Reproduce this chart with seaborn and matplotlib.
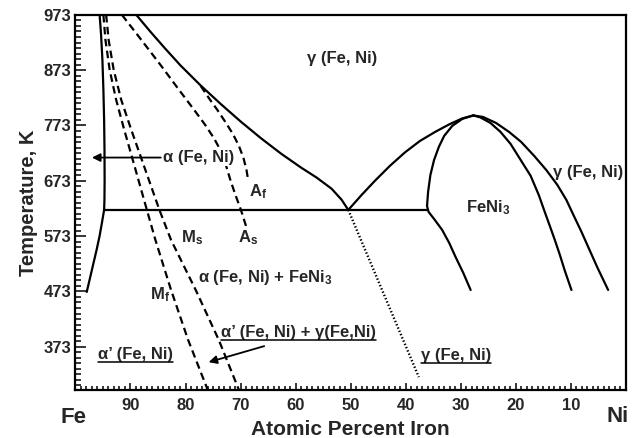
import matplotlib
matplotlib.use("Agg")
import matplotlib.pyplot as plt
import matplotlib.ticker as tck
from matplotlib.lines import Line2D
import seaborn as sns

# phase boundaries: (atomic % Fe, temperature K)
alpha_x = [95.61, 95.34, 95.10, 94.92, 94.79, 94.72, 94.70, 94.73, 94.79,
           95.16, 95.61, 96.16, 96.80, 97.35, 97.95]
alpha_y = [973, 936.8, 891.6, 837.3, 783.1, 728.8, 674.5, 638.4, 620.3,
           598.6, 573.3, 547.9, 520.8, 497.3, 472.0]

gamma_x = [88.94, 86.38, 83.64, 80.90, 77.24, 73.58, 69.93, 66.27, 62.61,
           58.96, 56.22, 53.47, 51.65, 50.42]
gamma_y = [973, 942.6, 911.5, 881.5, 845.3, 811.7, 779.8, 749.8, 721.9,
           696.6, 679.1, 658.8, 638.9, 620.3]

eutectoid_x = [94.79, 35.92]
eutectoid_y = [620.3, 620.3]

rise_x = [50.42, 48.0, 45.61, 42.87, 40.13, 37.39, 34.64, 32.08, 29.71, 27.7]
rise_y = [620.3, 647.4, 672.7, 699.9, 724.3, 745.1, 761.4, 775.0, 785.8, 791.2]

feni3_left_x = [27.7, 29.71, 31.54, 33.0, 33.97, 34.83, 35.50, 35.92, 36.11,
                35.83, 34.83, 33.36, 32.08, 30.93, 29.52, 28.19]
feni3_left_y = [791.2, 784.9, 772.2, 754.1, 734.2, 710.7, 683.6, 652.8, 627.5,
                616.7, 604.0, 584.1, 560.6, 535.3, 506.3, 475.6]

feni3_right_x = [27.7, 26.42, 24.59, 22.76, 20.93, 19.10, 17.28, 15.81, 14.72,
                 13.80, 12.89, 11.97, 11.06, 9.87]
feni3_right_y = [791.2, 787.6, 777.6, 761.4, 739.7, 710.7, 681.9, 647.4, 616.7,
                 591.4, 566.0, 538.9, 509.9, 475.6]

gamma_right_x = [27.7, 25.96, 23.58, 21.21, 19.01, 16.64, 14.45, 12.43, 10.79,
                 9.51, 8.04, 6.58, 5.12, 3.2]
gamma_right_y = [791.2, 788.5, 777.6, 761.4, 743.3, 718.0, 692.6, 665.5, 638.4,
                 611.2, 580.5, 547.9, 515.4, 475.6]

# martensite / austenite start and finish lines (dashed)
ms_x = [94.42, 93.97, 93.05, 91.68, 89.85, 87.93, 84.74, 82.63, 78.15, 73.95, 70.29]
ms_y = [973, 927.8, 873.5, 819.3, 765.0, 710.7, 620.3, 566.0, 475.6, 385.1, 294.7]

mf_x = [94.92, 94.55, 93.78, 92.60, 91.13, 89.58, 87.02, 85.47, 82.63, 79.52, 75.96]
mf_y = [973, 927.8, 873.5, 819.3, 765.0, 710.7, 620.3, 566.0, 475.6, 385.1, 294.7]

as_x = [91.55, 88.03, 84.55, 81.17, 78.43, 76.42, 74.86, 73.67, 72.67, 71.85,
        70.93, 69.93, 69.01]
as_y = [973, 927.8, 882.6, 837.3, 801.2, 774.0, 750.5, 728.8, 701.7, 674.5,
        647.4, 620.3, 591.4]

af_x = [77.24, 75.78, 74.22, 72.76, 71.39, 70.29, 69.47, 68.92, 68.65]
af_y = [844.6, 822.9, 801.2, 779.4, 757.7, 736.0, 714.3, 692.6, 676.3]

dotted_x = [50.42, 37.6]
dotted_y = [620.3, 318]

x_ticks = [100, 90, 80, 70, 60, 50, 40, 30, 20, 10, 0]
x_labels = ["", "90", "80", "70", "60", "50", "40", "30", "20", "10", ""]
y_ticks = [373, 473, 573, 673, 773, 873, 973]

sns.set_style("ticks")
plt.rcParams["font.family"] = ["Liberation Sans", "DejaVu Sans"]
plt.rcParams["font.weight"] = "bold"
plt.rcParams["mathtext.fontset"] = "custom"
plt.rcParams["mathtext.rm"] = "Liberation Sans:bold"
plt.rcParams["mathtext.bf"] = "Liberation Sans:bold"
plt.rcParams["mathtext.it"] = "Liberation Sans:bold"

fig = plt.figure(figsize=(6.34, 4.38), dpi=100)
ax = fig.add_axes([0.119, 0.110, 0.868, 0.856])

LW = 1.6
DASH = (0, (3.4, 2.0))


def curve(x, y, ls="-", lw=LW):
    sns.lineplot(x=x, y=y, ax=ax, sort=False, estimator=None,
                 color="black", lw=lw, linestyle=ls)


curve(alpha_x, alpha_y)
curve(gamma_x, gamma_y)
curve(eutectoid_x, eutectoid_y)
curve(rise_x, rise_y)
curve(feni3_left_x, feni3_left_y)
curve(feni3_right_x, feni3_right_y)
curve(gamma_right_x, gamma_right_y)
curve(ms_x, ms_y, DASH)
curve(mf_x, mf_y, DASH)
curve(as_x, as_y, DASH)
curve(af_x, af_y, DASH)
curve(dotted_x, dotted_y, (0, (0.6, 0.9)), 1.7)

ax.set_xlim(100, 0)
ax.set_ylim(295, 973)

ax.xaxis.set_major_locator(tck.FixedLocator(x_ticks))
ax.set_xticklabels(x_labels)
ax.xaxis.set_minor_locator(tck.MultipleLocator(1))
ax.yaxis.set_major_locator(tck.FixedLocator(y_ticks))
ax.yaxis.set_minor_locator(tck.FixedLocator(list(range(303, 974, 10))))

ax.tick_params(axis="both", which="both", direction="in", top=False, right=False,
               color="black", width=1.1)
ax.tick_params(axis="y", which="major", length=8, labelsize=12, pad=3)
ax.tick_params(axis="y", which="minor", length=4)
ax.tick_params(axis="x", which="major", length=5, labelsize=12, pad=6)
ax.tick_params(axis="x", which="minor", length=3)
for lab in ax.get_xticklabels() + ax.get_yticklabels():
    lab.set_fontweight("bold")

for sp in ax.spines.values():
    sp.set_linewidth(1.6)
    sp.set_color("black")

ax.set_xlabel("Atomic Percent Iron", fontsize=15, fontweight="bold", labelpad=5)
ax.set_ylabel("Temperature, K", fontsize=14.5, fontweight="bold", labelpad=4)

# element names at the ends of the composition axis
ax.text(100.3, -0.075, "Fe", transform=ax.get_xaxis_transform(), fontsize=16,
        fontweight="bold", ha="center", va="center")
ax.text(1.4, -0.072, "Ni", transform=ax.get_xaxis_transform(), fontsize=16,
        fontweight="bold", ha="center", va="center")

FS = 12
txt = dict(fontsize=FS, fontweight="bold", va="center", ha="left")
ax.text(51.6, 895, "\u03b3 (Fe, Ni)", **dict(txt, ha="center"))
ax.text(84.0, 715, "\u03b1 (Fe, Ni)", zorder=5,
        bbox=dict(facecolor="white", edgecolor="none", pad=0.5), **txt)
ax.text(68.4, 653, r"A$_\mathregular{f}$", **txt)
ax.text(80.9, 570, r"M$_\mathregular{s}$", **txt)
ax.text(70.5, 570, r"A$_\mathregular{s}$", **txt)
ax.text(77.8, 498, "\u03b1 (Fe, Ni) + FeNi$_\\mathregular{3}$", **txt)
ax.text(86.4, 468, r"M$_\mathregular{f}$", **txt)
ax.text(29.1, 624, r"FeNi$_\mathregular{3}$", **txt)
ax.text(13.3, 688, "\u03b3 (Fe, Ni)", **txt)
u1 = ax.text(95.9, 359, "\u03b1\u2019 (Fe, Ni)", **txt)
u2 = ax.text(73.6, 399, "\u03b1\u2019 (Fe, Ni) + \u03b3(Fe,Ni)", **txt)
u3 = ax.text(37.2, 357, "\u03b3 (Fe, Ni)", **txt)

arrow = dict(arrowstyle="-|>", color="black", lw=1.3, mutation_scale=12,
             shrinkA=0, shrinkB=0)
ax.annotate("", xy=(97.0, 715), xytext=(84.5, 715), arrowprops=arrow)
ax.annotate("", xy=(75.8, 345), xytext=(65.7, 374), arrowprops=arrow)

# underline the three labels in the lower part
fig.canvas.draw()
inv = fig.transFigure.inverted()
for t in (u1, u2, u3):
    bb = t.get_window_extent()
    (x0, y0), (x1, _) = inv.transform([(bb.x0, bb.y0), (bb.x1, bb.y0)])
    fig.add_artist(Line2D([x0, x1], [y0, y0], color="black", lw=1.1))

fig.savefig("out.png", dpi=100)
